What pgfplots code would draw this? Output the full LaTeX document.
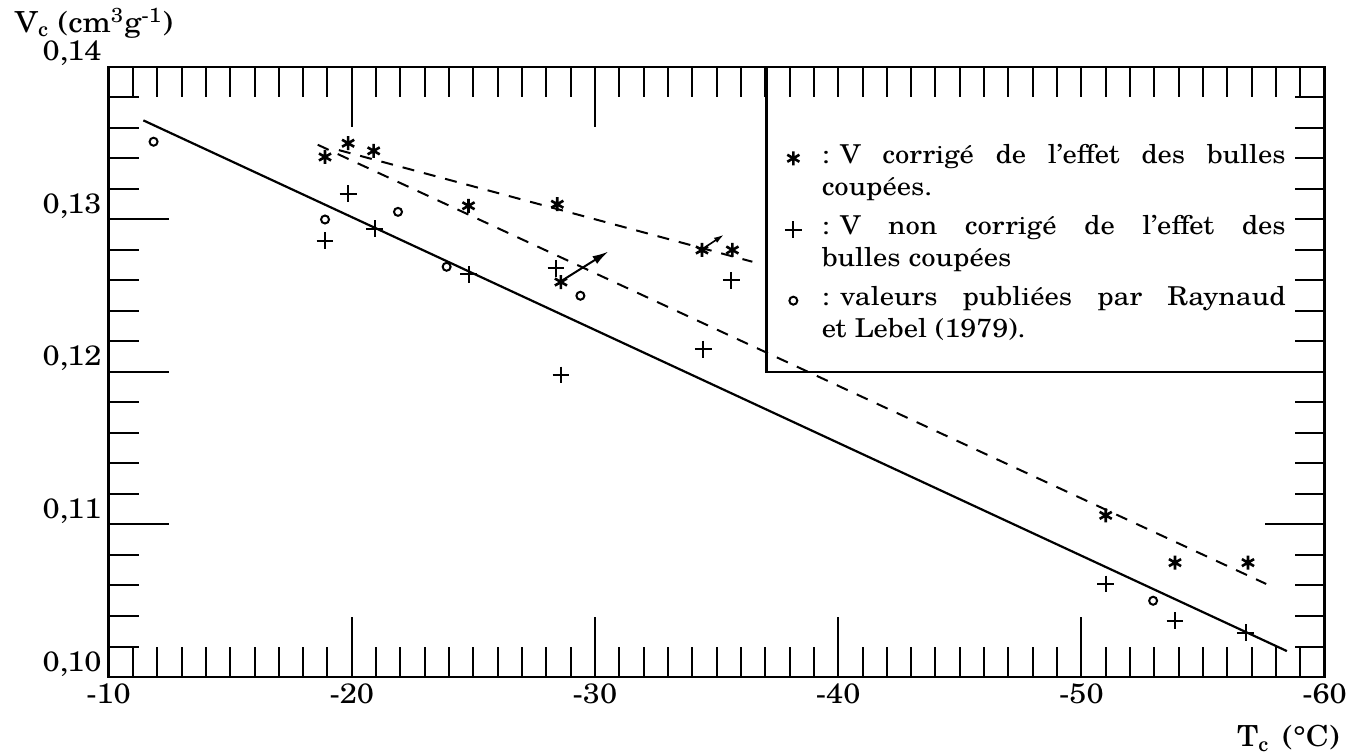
\documentclass[border=0pt]{standalone}
\usepackage{fontspec}
\setmainfont[FakeStretch=1.1]{TeX Gyre Schola}
\usepackage{pgfplots}
\pgfplotsset{compat=1.18}
\usetikzlibrary{arrows.meta}

% corrected V (stars)
\pgfplotstableread{
T V
-18.9 0.1341
-19.85 0.1350
-20.9 0.1345
-24.8 0.1309
-28.45 0.1310
-28.6 0.1259
-34.4 0.1280
-35.65 0.1280
-51.0 0.1106
-53.85 0.1075
-56.85 0.1075
}\corrige
% uncorrected V (plus)
\pgfplotstableread{
T V
-18.9 0.1286
-19.85 0.1317
-20.95 0.1294
-24.8 0.1264
-28.4 0.1268
-28.6 0.1198
-34.45 0.1215
-35.6 0.1260
-51.0 0.1061
-53.85 0.1037
-56.75 0.1029
}\noncorrige
% Raynaud et Lebel (1979)
\pgfplotstableread{
T V
-11.85 0.1351
-18.9 0.1300
-21.9 0.1305
-23.9 0.1269
-29.4 0.1250
-52.95 0.1050
}\raynaud

% first line of a legend entry: fixed space after the colon, rest justified
\newcommand{\legline}[1]{\makebox[232pt][s]{:\hspace{0.4em}#1}}

\begin{document}
\begin{tikzpicture}
\pgfplotsset{
  cadre/.style={
    width=608pt, height=305pt, scale only axis,
    xmin=-60, xmax=-10, ymin=0.10, ymax=0.14,
    x dir=reverse,
    axis line style={line width=1.2pt},
    every tick/.style={black, line width=1pt},
    major tick length=30pt, minor tick length=15pt,
    tick align=inside,
  },
}
\begin{axis}[cadre,
    xtick pos=left, ytick pos=left,
    xtick={-10,-20,-30,-40,-50,-60},
    xticklabels={-10,-20,-30,-40,-50,-60},
    ytick={0.10,0.11,0.12,0.13,0.14},
    yticklabels={{0,10},{0,11},{0,12},{0,13},{0,14}},
    minor x tick num=9, minor y tick num=4,
    tick label style={font=\fontsize{14}{16}\selectfont},
    yticklabel style={anchor=base east, yshift=3pt},
    xlabel={T\textsubscript{c}\hspace{0.45em}(°C)},
    ylabel={V\textsubscript{c} (cm\textsuperscript{3}g\textsuperscript{-1})},
    label style={font=\fontsize{14.5}{16}\selectfont},
    xlabel style={at={(rel axis cs:1.018,-0.1147)}, anchor=base east},
    ylabel style={rotate=-90, at={(rel axis cs:-0.0828,1.0565)}, anchor=base west},
    legend image code/.code={\draw[#1] plot coordinates {(0pt,2.5pt)};},
    legend cell align=left,
    legend style={draw=none, fill=none, at={(rel axis cs:0.5559,0.881)},
      anchor=north west, inner sep=0pt, row sep=20.5pt, column sep=8pt,
      cells={anchor=base west},
      font=\fontsize{13}{16}\selectfont},
  ]
\addplot[only marks, mark=asterisk, mark size=3.5pt, line width=1.3pt] table {\corrige};
\addlegendentry{\parbox[t]{232pt}{\legline{V corrigé de l'effet des bulles}\\coupées.}}
\addplot[only marks, mark=+, mark size=4.2pt, line width=1pt] table {\noncorrige};
\addlegendentry{\parbox[t]{232pt}{\legline{V non corrigé de l'effet des}\\bulles coupées}}
\addplot[only marks, mark=o, mark size=2pt, line width=1pt] table {\raynaud};
\addlegendentry{\parbox[t]{232pt}{\legline{valeurs publiées par Raynaud}\\et Lebel (1979).}}
% regression lines
\addplot[forget plot, line width=1.1pt] coordinates {(-11.43,0.1365) (-58.45,0.1017)};
\addplot[forget plot, line width=1pt, dash pattern=on 6pt off 5pt] coordinates {(-18.6,0.1349) (-57.6,0.1061)};
\addplot[forget plot, line width=1pt, dash pattern=on 6pt off 5pt] coordinates {(-19.47,0.13455) (-36.47,0.12723)};
% arrows from uncorrected to corrected
\addplot[forget plot, line width=1pt, -{Latex[length=8pt,width=4.5pt]}] coordinates {(-28.65,0.1260) (-30.55,0.1279)};
\addplot[forget plot, line width=0.8pt, -{Latex[length=5pt,width=3pt]}] coordinates {(-34.45,0.1281) (-35.3,0.1290)};
% legend frame
\draw[line width=1.2pt] (axis cs:-37.05,0.14) -- (axis cs:-37.05,0.12) -- (axis cs:-60,0.12);
\end{axis}
% upper and right ticks
\begin{axis}[cadre,
    xtick pos=right, ytick pos=right,
    xtick={-20,-30}, xticklabels={},
    minor xtick={-59,-58,...,-11},
    ytick={0.11}, yticklabels={},
    minor ytick={0.102,0.104,...,0.1385},
  ]
\end{axis}
\pgfresetboundingbox
\path[use as bounding box] (-54.3pt,-38.5pt) rectangle (619.2pt,338.5pt);
\end{tikzpicture}
\end{document}
